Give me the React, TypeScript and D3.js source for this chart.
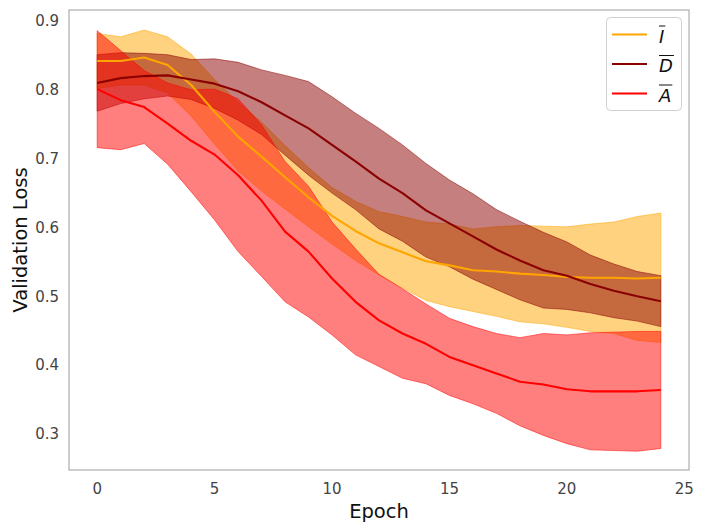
import React, { useEffect, useRef } from 'react';
import * as d3 from 'd3';

const epochs = [0, 1, 2, 3, 4, 5, 6, 7, 8, 9, 10, 11, 12, 13, 14, 15, 16, 17, 18, 19, 20, 21, 22, 23, 24];

const meanI = [0.842, 0.842, 0.847, 0.836, 0.807, 0.768, 0.732, 0.703, 0.673, 0.644, 0.617, 0.595, 0.577, 0.564, 0.551, 0.545, 0.538, 0.536, 0.533, 0.531, 0.528, 0.527, 0.527, 0.526, 0.527];
const stdI = [0.040, 0.035, 0.040, 0.041, 0.045, 0.047, 0.050, 0.050, 0.046, 0.043, 0.041, 0.043, 0.046, 0.052, 0.057, 0.060, 0.060, 0.065, 0.070, 0.071, 0.073, 0.078, 0.081, 0.090, 0.094];

const meanD = [0.810, 0.817, 0.820, 0.821, 0.815, 0.809, 0.798, 0.782, 0.763, 0.744, 0.720, 0.696, 0.671, 0.650, 0.625, 0.606, 0.587, 0.568, 0.552, 0.538, 0.530, 0.518, 0.508, 0.500, 0.493];
const stdD = [0.041, 0.037, 0.033, 0.030, 0.029, 0.036, 0.042, 0.047, 0.058, 0.068, 0.070, 0.070, 0.073, 0.070, 0.068, 0.063, 0.062, 0.058, 0.057, 0.055, 0.049, 0.042, 0.039, 0.036, 0.037];

const meanA = [0.801, 0.785, 0.775, 0.751, 0.726, 0.706, 0.676, 0.639, 0.594, 0.565, 0.526, 0.492, 0.465, 0.446, 0.431, 0.412, 0.400, 0.388, 0.376, 0.372, 0.365, 0.362, 0.362, 0.362, 0.364];
const stdA = [0.085, 0.072, 0.053, 0.059, 0.074, 0.095, 0.111, 0.110, 0.102, 0.095, 0.082, 0.077, 0.067, 0.065, 0.058, 0.056, 0.056, 0.058, 0.064, 0.074, 0.079, 0.085, 0.086, 0.087, 0.085];

const seriesLabels = ['I', 'D', 'A'];
const seriesColors = ['#FFA500', '#8B0000', '#FF0000'];
const xTicks = [0, 5, 10, 15, 20, 25];
const yTicks = [0.3, 0.4, 0.5, 0.6, 0.7, 0.8, 0.9];
const xLabel = 'Epoch';
const yLabel = 'Validation Loss';

export default function App() {
  const ref = useRef<SVGSVGElement>(null);

  useEffect(() => {
    const svg = d3.select(ref.current);
    svg.selectAll('*').remove();
    const font = 'DejaVu Sans, sans-serif';
    const m = { left: 69, right: 689, top: 10, bottom: 470 };
    const x = d3.scaleLinear().domain([-1.2, 25.2]).range([m.left, m.right]);
    const y = d3.scaleLinear().domain([0.2477, 0.916]).range([m.bottom, m.top]);

    const series = [
      { mean: meanI, std: stdI },
      { mean: meanD, std: stdD },
      { mean: meanA, std: stdA },
    ].map((s, k) => ({ ...s, label: seriesLabels[k], color: seriesColors[k] }));

    svg.append('rect').attr('x', 0).attr('y', 0).attr('width', 705).attr('height', 532).attr('fill', '#ffffff');

    const g = svg.append('g');
    series.forEach((s) => {
      const area = d3
        .area<number>()
        .x((_, i) => x(epochs[i]))
        .y0((d, i) => y(d - s.std[i]))
        .y1((d, i) => y(d + s.std[i]));
      g.append('path')
        .attr('d', area(s.mean) as string)
        .attr('fill', s.color)
        .attr('fill-opacity', 0.5)
        .attr('stroke', s.color)
        .attr('stroke-opacity', 0.5)
        .attr('stroke-width', 1);
    });
    series.forEach((s) => {
      const line = d3
        .line<number>()
        .x((_, i) => x(epochs[i]))
        .y((d) => y(d));
      g.append('path')
        .attr('d', line(s.mean) as string)
        .attr('fill', 'none')
        .attr('stroke', s.color)
        .attr('stroke-width', 2.1)
        .attr('stroke-linejoin', 'round');
    });

    // frame
    svg.append('rect')
      .attr('x', m.left).attr('y', m.top)
      .attr('width', m.right - m.left).attr('height', m.bottom - m.top)
      .attr('fill', 'none').attr('stroke', '#b0b0b0').attr('stroke-width', 1.25);

    // ticks
    svg.append('g').selectAll('text').data(xTicks).join('text')
      .attr('x', (d) => x(d)).attr('y', 494)
      .attr('text-anchor', 'middle')
      .attr('font-family', font).attr('font-size', 15).attr('fill', '#444')
      .text((d) => String(d));
    svg.append('g').selectAll('text').data(yTicks).join('text')
      .attr('x', 59).attr('y', (d) => y(d) + 5.3)
      .attr('text-anchor', 'end')
      .attr('font-family', font).attr('font-size', 15).attr('fill', '#444')
      .text((d) => d.toFixed(1));

    svg.append('text')
      .attr('x', (m.left + m.right) / 2).attr('y', 518)
      .attr('text-anchor', 'middle')
      .attr('font-family', font).attr('font-size', 19.5).attr('fill', '#111')
      .text(xLabel);
    svg.append('text')
      .attr('transform', `translate(27, ${(m.top + m.bottom) / 2}) rotate(-90)`)
      .attr('text-anchor', 'middle')
      .attr('font-family', font).attr('font-size', 19.5).attr('fill', '#111')
      .text(yLabel);

    // legend
    const lg = svg.append('g');
    lg.append('rect')
      .attr('x', 606.5).attr('y', 17.5).attr('width', 75).attr('height', 93).attr('rx', 4)
      .attr('fill', '#ffffff').attr('fill-opacity', 0.8)
      .attr('stroke', '#d0d0d0').attr('stroke-width', 1);
    series.forEach((s, k) => {
      const cy = 34.5 + k * 29.5;
      lg.append('line')
        .attr('x1', 612).attr('x2', 647).attr('y1', cy).attr('y2', cy)
        .attr('stroke', s.color).attr('stroke-width', 2.1);
      const t = lg.append('text')
        .attr('x', 659).attr('y', cy + 8)
        .attr('font-family', font).attr('font-style', 'italic')
        .attr('font-size', 18).attr('fill', '#111')
        .text(s.label);
      const node = t.node() as SVGTextElement;
      const w = node.getComputedTextLength();
      lg.append('line')
        .attr('x1', 659).attr('x2', 659 + w + 1)
        .attr('y1', cy - 8.5).attr('y2', cy - 8.5)
        .attr('stroke', '#111').attr('stroke-width', 1);
    });
  }, []);

  return (
    <svg
      ref={ref}
      width={705}
      height={532}
      style={{ position: 'fixed', left: 0, top: 0, display: 'block' }}
    />
  );
}
